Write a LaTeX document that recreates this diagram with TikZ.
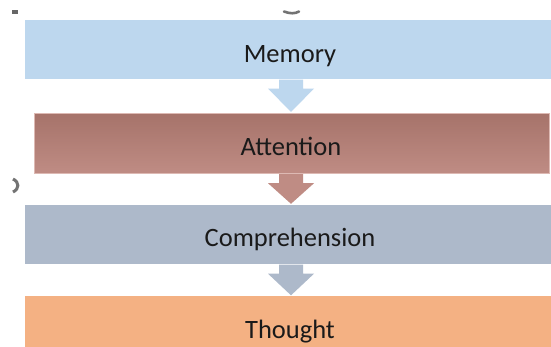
\documentclass[tikz,border=0pt]{standalone}
\usepackage{fontspec}
\setmainfont{Carlito}
\usetikzlibrary{calc}
\definecolor{memc}{HTML}{BDD7EE}
\definecolor{atttop}{HTML}{A6736A}
\definecolor{attbot}{HTML}{BF8C84}
\definecolor{attedge}{HTML}{DDB9B3}
\definecolor{comc}{HTML}{ADB9CA}
\definecolor{thoc}{HTML}{F4B183}
\definecolor{txtc}{HTML}{1A1A1A}
\tikzset{
  stage/.style={draw=none, rectangle, inner sep=0pt, anchor=north west},
  stagetext/.style={anchor=base, inner sep=0pt, text=txtc, font=\fontsize{26.5}{31}\selectfont},
  marks/.style={draw=black!55, line width=2.6pt, line cap=round}
}
\newcommand\flowarrow[3]{%
  \fill[#3] ($(#1.south)+(-12,0)$) -- ($(#1.south)+(-12,9)$) -- ($(#1.south)+(-23,9)$)
    -- (#2.north) -- ($(#1.south)+(23,9)$) -- ($(#1.south)+(12,9)$) -- ($(#1.south)+(12,0)$) -- cycle;}
\begin{document}
\begin{tikzpicture}[x=1pt,y=-1pt]
\useasboundingbox (0,0) rectangle (551,346);
\clip (0,0) rectangle (551,346);
\fill[white] (0,0) rectangle (551,346);
% stray marks
\fill[black!60] (12,10) rectangle (18,13.5);
\draw[marks] (284,11.5) .. controls (290,13.8) and (295,13.8) .. (299,11.5);
\draw[black!55, line width=3pt] (13,179) .. controls (19.5,182) and (19.5,189) .. (13,192);
% boxes
\node[stage, fill=memc, minimum width=532pt, minimum height=59pt] (mem) at (25,20) {};
\node[stage, top color=atttop, bottom color=attbot, draw=attedge, line width=0.8pt, minimum width=515pt, minimum height=60pt] (att) at (34,113) {};
\node[stage, fill=comc, minimum width=532pt, minimum height=59pt] (com) at (25,205) {};
\node[stage, fill=thoc, minimum width=532pt, minimum height=64pt] (tho) at (25,296) {};
% arrow anchors
\coordinate (m1) at (291,79);
\coordinate (t1) at (291,112.5);
\coordinate (m2) at (291,173.5);
\coordinate (t2) at (291,204.5);
\coordinate (m3) at (291,264);
\coordinate (t3) at (291,296);
\node[inner sep=0pt] (a1s) at (m1) {};
\node[inner sep=0pt] (a1t) at (t1) {};
\node[inner sep=0pt] (a2s) at (m2) {};
\node[inner sep=0pt] (a2t) at (t2) {};
\node[inner sep=0pt] (a3s) at (m3) {};
\node[inner sep=0pt] (a3t) at (t3) {};
\flowarrow{a1s}{a1t}{memc}
\flowarrow{a2s}{a2t}{attbot}
\flowarrow{a3s}{a3t}{comc}
% texts
\node[stagetext] (memt) at (290,62) {Memory};
\node[stagetext] (attt) at (291,155) {Attention};
\node[stagetext] (comt) at (290,246.5) {Comprehension};
\node[stagetext] (thot) at (290,338) {Thought};
\end{tikzpicture}
\end{document}
